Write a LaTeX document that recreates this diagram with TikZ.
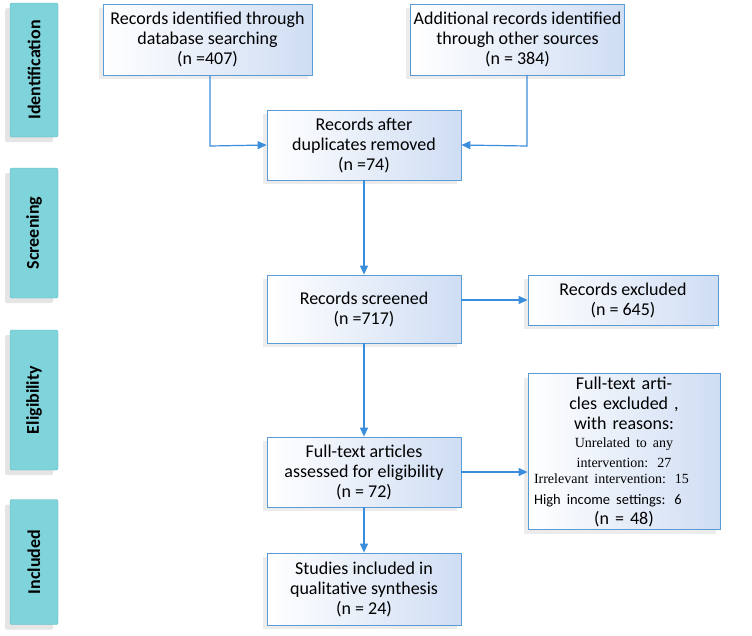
\documentclass[tikz,border=0pt]{standalone}
\usepackage{fontspec}
\setmainfont{Carlito}
\newfontfamily\tms{Liberation Serif}
\usetikzlibrary{arrows.meta,shadows}
\definecolor{edge}{HTML}{5B9BD5}
\definecolor{boxr}{HTML}{CFDDF3}
\definecolor{side}{HTML}{7FD3DB}
\definecolor{sideedge}{HTML}{5FB8C2}
\definecolor{arr}{HTML}{3B8EDB}
\tikzset{
 box/.style={draw=edge,line width=0.8pt,left color=white,right color=boxr,align=center,font=\fontsize{18}{20}\selectfont,
   drop shadow={shadow xshift=-4pt,shadow yshift=-4pt,opacity=0.15,fill=gray}},
 sidebox/.style={draw=sideedge,fill=side,rounded corners=1.5pt,minimum width=48pt,font=\bfseries\fontsize{18}{20}\selectfont,
   drop shadow={shadow xshift=-5pt,shadow yshift=-5pt,opacity=0.2,fill=gray}},
 arw/.style={draw=arr,line width=1.2pt,-{Triangle[length=9pt,width=8pt]}}
}
\begin{document}
\begin{tikzpicture}[x=1pt,y=-1pt]
\useasboundingbox (0,0) rectangle (752,635);
\fill[white] (0,0) rectangle (752,635);
\node[sidebox,minimum height=134pt] (s1) at (34,70) {\rotatebox{90}{Identification}};
\node[sidebox,minimum height=130pt] (s2) at (34,233) {\rotatebox{90}{Screening}};
\node[sidebox,minimum height=140pt] (s3) at (34,400) {\rotatebox{90}{Eligibility}};
\node[sidebox,minimum height=125pt] (s4) at (34,562) {\rotatebox{90}{Included}};

\node[box,minimum width=209pt,minimum height=71pt] (a) at (207.5,39.5) {Records identified through\\database searching\\(n =407)};
\node[box,minimum width=209pt,minimum height=71pt] (b) at (517.5,39.5) {Additional records identified\\through other sources\\(n = 384)};
\node[box,minimum width=194pt,minimum height=70pt] (c) at (364,145) {Records after\\duplicates removed\\(n =74)};
\node[box,minimum width=194pt,minimum height=68pt] (d) at (364,309) {Records screened\\(n =717)};
\node[box,minimum width=190pt,minimum height=50pt] (e) at (623,300) {Records excluded\\(n = 645)};
\node[box,minimum height=153pt,text width=186pt,inner sep=3pt] (g) at (624,451.5) {Full-text articles excluded ,\\with reasons:\\[-2pt]
 {\tms\fontsize{14}{15}\selectfont Unrelated to any intervention: 27}\\[-4pt]
 \makebox[180pt][l]{\tms\fontsize{14}{15}\selectfont Irrelevant intervention: 15}\\[1pt]
 \makebox[180pt][l]{\fontsize{14.5}{16}\selectfont High income settings: 6}\\
 (n = 48)};
\node[box,minimum width=194pt,minimum height=70pt] (f) at (364,472) {Full-text articles\\assessed for eligibility\\(n = 72)};
\node[box,minimum width=194pt,minimum height=72pt] (h) at (364,589) {Studies included in\\qualitative synthesis\\(n = 24)};

\coordinate (ae) at (210,146);
\coordinate (be) at (527,146);
\draw[arw] (a.south -| ae) -- (ae) -- (c.west);
\draw[arw] (b.south -| be) -- (be) -- (c.east);
\draw[arw] (c) -- (d);
\draw[arw] (d.east |- e.west) -- (e.west);
\draw[arw] (d) -- (f);
\draw[arw] (f.east) -- (f.east -| g.west);
\draw[arw] (f) -- (h);
\end{tikzpicture}
\end{document}
